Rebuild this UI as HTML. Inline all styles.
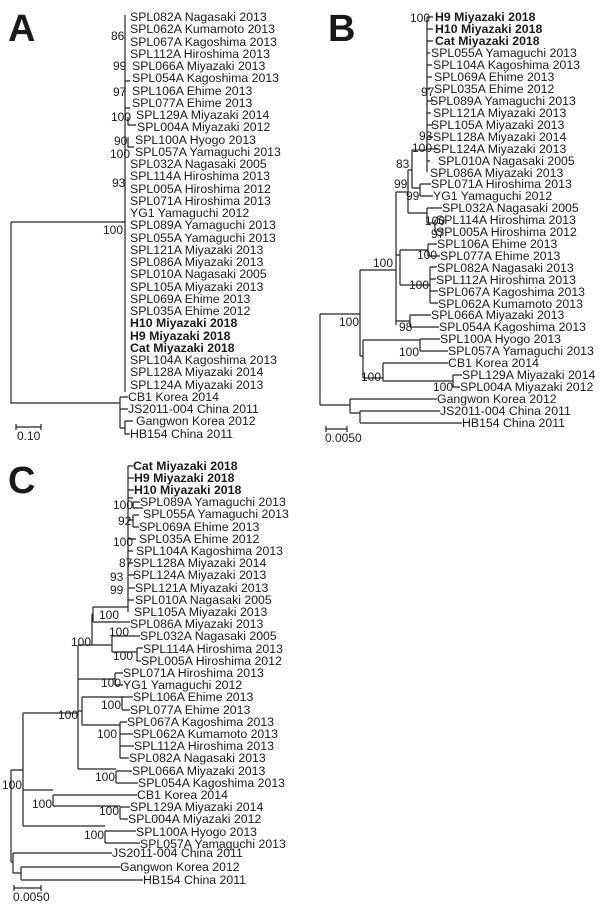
<!DOCTYPE html>
<html><head><meta charset="utf-8"><style>
html,body{margin:0;padding:0;background:#fff;width:600px;height:909px;overflow:hidden}
svg text{font-family:"Liberation Sans",Arial,sans-serif;font-size:12.3px;fill:#1a1a1a}
.b{font-weight:bold}
.n{font-size:12px}
.L{font-size:38px;font-weight:bold}
</style></head><body>
<svg width="600" height="909" viewBox="0 0 600 909" xmlns="http://www.w3.org/2000/svg">
<g stroke="#222" stroke-width="1.2" fill="none">
<!-- Panel A -->
<path d="M125 15V392 M11 222H125 M11 222V403H120 M120 397V428 M120 397H128 M120 409H128 M120 409V428 M120 428H125 M125 421V434 M125 421H133 M125 434H130"/>
<path d="M125 81H130 M125 108H130 M128 117V125H136 M128 137V147H134"/>
<!-- Panel B -->
<path d="M427 17V172 M427 17H433 M427 29H433 M427 41H433 M427 53H430 M427 65H432 M427 77H432 M427 89H430 M427 101H433 M427 113H431 M427 125H433 M427 137H433 M427 149H438 M427 161H430"/>
<path d="M412 150V188 M412 150H427 M412 188H420 M420 184V196 M420 184H431 M420 196H433"/>
<path d="M408 170V213 M408 170H412 M408 213H427 M427 208V223 M427 208H442 M427 223H435 M435 220V232 M435 220H436 M435 232H436"/>
<path d="M396 192V325 M396 192H408 M396 255H400 M400 250V285 M400 250H428 M428 244V256 M428 244H437 M428 256H440 M400 285H430 M430 267V303 M430 267H437 M430 279H436 M430 291H438 M430 303H438 M396 321H410 M410 315V327 M410 315H431 M410 327H439"/>
<path d="M360 270V356 M360 270H396 M360 356H363 M363 340V378 M363 340H420 M420 339V351 M420 339H440 M420 351H448 M363 378H383 M383 363V381 M383 363H448 M383 381H453 M453 375V387 M453 375H462 M453 387H460"/>
<path d="M320 314V405 M320 314H360 M320 405H350 M350 399V413 M350 399H437 M350 413H360 M360 411V423 M360 411H440 M360 423H462"/>
<!-- Panel C -->
<path d="M128 466V612 M128 466H133 M128 478H134 M128 490H134 M128 498H133 M133 502V508 M133 502H140 M133 508H143 M128 520H133 M133 515V527 M133 515H139 M133 527H139 M128 539H136 M128 551H133 M128 563H133 M128 575H135 M128 588H135 M128 600H134"/>
<path d="M93 607V622 M93 607H128 M93 622H130 M92 614V645 M92 614H93 M92 645H112 M112 636V652 M112 636H140 M112 652H137 M137 648V661 M137 648H143 M137 661H141"/>
<path d="M78 645V769 M78 645H92 M78 679H115 M115 673V685 M115 673H123 M115 685H123 M78 711H82 M82 697V725 M82 697H122 M122 697V710 M122 697H133 M122 710H130 M82 725H120 M120 722V758 M120 722H127 M120 734H133 M120 746H134 M120 758H129 M78 769H116 M116 771V783 M116 771H132 M116 783H138"/>
<path d="M23 713V826 M23 713H78 M23 790H53 M53 795V806 M53 795H137 M53 806H120 M120 807V819 M120 807H130 M120 819H128 M23 826H105 M105 831V843 M105 831H136 M105 843H140"/>
<path d="M11 770V862 M11 770H23 M11 862H13 M13 853V873 M13 853H112 M13 873H21 M21 867V880 M21 867H120 M21 880H143"/>
<!-- scale bars -->
<path d="M16 427H41 M16 424V430 M41 424V430 M326 429H347 M326 426V432 M347 426V432 M14 888H41 M14 885V891 M41 885V891"/>
</g>
<text x="8" y="41" class="L">A</text>
<text x="328" y="41" class="L">B</text>
<text x="8" y="493" class="L">C</text>
<g>
<text x="130" y="21">SPL082A Nagasaki 2013</text>
<text x="130" y="33">SPL062A Kumamoto 2013</text>
<text x="130" y="46">SPL067A Kagoshima 2013</text>
<text x="130" y="58">SPL112A Hiroshima 2013</text>
<text x="132" y="70">SPL066A Miyazaki 2013</text>
<text x="132" y="82">SPL054A Kagoshima 2013</text>
<text x="132" y="95">SPL106A Ehime 2013</text>
<text x="132" y="107">SPL077A Ehime 2013</text>
<text x="136" y="119">SPL129A Miyazaki 2014</text>
<text x="137" y="131">SPL004A Miyazaki 2012</text>
<text x="135" y="144">SPL100A Hyogo 2013</text>
<text x="135" y="156">SPL057A Yamaguchi 2013</text>
<text x="130" y="168">SPL032A Nagasaki 2005</text>
<text x="130" y="180">SPL114A Hiroshima 2013</text>
<text x="130" y="193">SPL005A Hiroshima 2012</text>
<text x="130" y="205">SPL071A Hiroshima 2013</text>
<text x="130" y="217">YG1 Yamaguchi 2012</text>
<text x="130" y="229">SPL089A Yamaguchi 2013</text>
<text x="130" y="242">SPL055A Yamaguchi 2013</text>
<text x="130" y="254">SPL121A Miyazaki 2013</text>
<text x="130" y="266">SPL086A Miyazaki 2013</text>
<text x="130" y="278">SPL010A Nagasaki 2005</text>
<text x="130" y="291">SPL105A Miyazaki 2013</text>
<text x="130" y="303">SPL069A Ehime 2013</text>
<text x="130" y="315">SPL035A Ehime 2012</text>
<text x="130" y="327" class="b">H10 Miyazaki 2018</text>
<text x="130" y="340" class="b">H9 Miyazaki 2018</text>
<text x="130" y="352" class="b">Cat Miyazaki 2018</text>
<text x="130" y="364">SPL104A Kagoshima 2013</text>
<text x="130" y="376">SPL128A Miyazaki 2014</text>
<text x="130" y="389">SPL124A Miyazaki 2013</text>
<text x="128" y="401">CB1 Korea 2014</text>
<text x="128" y="413">JS2011-004 China 2011</text>
<text x="136" y="425">Gangwon Korea 2012</text>
<text x="130" y="438">HB154 China 2011</text>
<text x="111" y="40" class="n">86</text>
<text x="113" y="70" class="n">99</text>
<text x="113" y="96" class="n">97</text>
<text x="111" y="121" class="n">100</text>
<text x="114" y="145" class="n">90</text>
<text x="110" y="158" class="n">100</text>
<text x="112" y="187" class="n">93</text>
<text x="103" y="234" class="n">100</text>
<text x="17" y="440" class="n">0.10</text>
</g>
<g>
<text x="435" y="21" class="b">H9 Miyazaki 2018</text>
<text x="435" y="33" class="b">H10 Miyazaki 2018</text>
<text x="435" y="45" class="b">Cat Miyazaki 2018</text>
<text x="431" y="57">SPL055A Yamaguchi 2013</text>
<text x="433" y="69">SPL104A Kagoshima 2013</text>
<text x="434" y="81">SPL069A Ehime 2013</text>
<text x="434" y="93">SPL035A Ehime 2012</text>
<text x="430" y="105">SPL089A Yamaguchi 2013</text>
<text x="433" y="117">SPL121A Miyazaki 2013</text>
<text x="431" y="129">SPL105A Miyazaki 2013</text>
<text x="433" y="141">SPL128A Miyazaki 2014</text>
<text x="433" y="153">SPL124A Miyazaki 2013</text>
<text x="438" y="165">SPL010A Nagasaki 2005</text>
<text x="430" y="177">SPL086A Miyazaki 2013</text>
<text x="431" y="188">SPL071A Hiroshima 2013</text>
<text x="433" y="200">YG1 Yamaguchi 2012</text>
<text x="442" y="212">SPL032A Nagasaki 2005</text>
<text x="436" y="224">SPL114A Hiroshima 2013</text>
<text x="436" y="236">SPL005A Hiroshima 2012</text>
<text x="437" y="248">SPL106A Ehime 2013</text>
<text x="440" y="260">SPL077A Ehime 2013</text>
<text x="437" y="272">SPL082A Nagasaki 2013</text>
<text x="436" y="284">SPL112A Hiroshima 2013</text>
<text x="438" y="296">SPL067A Kagoshima 2013</text>
<text x="438" y="308">SPL062A Kumamoto 2013</text>
<text x="431" y="319">SPL066A Miyazaki 2013</text>
<text x="439" y="331">SPL054A Kagoshima 2013</text>
<text x="440" y="343">SPL100A Hyogo 2013</text>
<text x="448" y="355">SPL057A Yamaguchi 2013</text>
<text x="448" y="367">CB1 Korea 2014</text>
<text x="462" y="379">SPL129A Miyazaki 2014</text>
<text x="460" y="391">SPL004A Miyazaki 2012</text>
<text x="437" y="403">Gangwon Korea 2012</text>
<text x="440" y="415">JS2011-004 China 2011</text>
<text x="462" y="427">HB154 China 2011</text>
<text x="410" y="22" class="n">100</text>
<text x="421" y="96" class="n">97</text>
<text x="419" y="140" class="n">93</text>
<text x="412" y="152" class="n">100</text>
<text x="396" y="168" class="n">83</text>
<text x="394" y="188" class="n">99</text>
<text x="406" y="200" class="n">99</text>
<text x="425" y="225" class="n">100</text>
<text x="431" y="238" class="n">97</text>
<text x="417" y="259" class="n">100</text>
<text x="373" y="267" class="n">100</text>
<text x="409" y="289" class="n">100</text>
<text x="339" y="326" class="n">100</text>
<text x="399" y="331" class="n">98</text>
<text x="399" y="356" class="n">100</text>
<text x="361" y="381" class="n">100</text>
<text x="433" y="391" class="n">100</text>
<text x="325" y="442" class="n">0.0050</text>
</g>
<g>
<text x="133" y="470" class="b">Cat Miyazaki 2018</text>
<text x="134" y="482" class="b">H9 Miyazaki 2018</text>
<text x="134" y="494" class="b">H10 Miyazaki 2018</text>
<text x="140" y="506">SPL089A Yamaguchi 2013</text>
<text x="143" y="518">SPL055A Yamaguchi 2013</text>
<text x="139" y="531">SPL069A Ehime 2013</text>
<text x="139" y="543">SPL035A Ehime 2012</text>
<text x="136" y="555">SPL104A Kagoshima 2013</text>
<text x="133" y="567">SPL128A Miyazaki 2014</text>
<text x="133" y="579">SPL124A Miyazaki 2013</text>
<text x="135" y="592">SPL121A Miyazaki 2013</text>
<text x="135" y="604">SPL010A Nagasaki 2005</text>
<text x="134" y="616">SPL105A Miyazaki 2013</text>
<text x="130" y="628">SPL086A Miyazaki 2013</text>
<text x="140" y="640">SPL032A Nagasaki 2005</text>
<text x="143" y="653">SPL114A Hiroshima 2013</text>
<text x="141" y="665">SPL005A Hiroshima 2012</text>
<text x="123" y="677">SPL071A Hiroshima 2013</text>
<text x="123" y="689">YG1 Yamaguchi 2012</text>
<text x="133" y="701">SPL106A Ehime 2013</text>
<text x="130" y="714">SPL077A Ehime 2013</text>
<text x="127" y="726">SPL067A Kagoshima 2013</text>
<text x="133" y="738">SPL062A Kumamoto 2013</text>
<text x="134" y="750">SPL112A Hiroshima 2013</text>
<text x="129" y="762">SPL082A Nagasaki 2013</text>
<text x="132" y="775">SPL066A Miyazaki 2013</text>
<text x="138" y="787">SPL054A Kagoshima 2013</text>
<text x="137" y="799">CB1 Korea 2014</text>
<text x="130" y="811">SPL129A Miyazaki 2014</text>
<text x="128" y="823">SPL004A Miyazaki 2012</text>
<text x="136" y="836">SPL100A Hyogo 2013</text>
<text x="140" y="848">SPL057A Yamaguchi 2013</text>
<text x="112" y="857">JS2011-004 China 2011</text>
<text x="120" y="871">Gangwon Korea 2012</text>
<text x="143" y="884">HB154 China 2011</text>
<text x="113" y="509" class="n">100</text>
<text x="118" y="525" class="n">92</text>
<text x="113" y="546" class="n">100</text>
<text x="119" y="567" class="n">87</text>
<text x="110" y="581" class="n">93</text>
<text x="110" y="594" class="n">99</text>
<text x="99" y="619" class="n">100</text>
<text x="109" y="636" class="n">100</text>
<text x="71" y="646" class="n">100</text>
<text x="113" y="660" class="n">100</text>
<text x="101" y="687" class="n">100</text>
<text x="101" y="709" class="n">100</text>
<text x="58" y="719" class="n">100</text>
<text x="97" y="738" class="n">100</text>
<text x="95" y="781" class="n">100</text>
<text x="2" y="789" class="n">100</text>
<text x="32" y="808" class="n">100</text>
<text x="99" y="815" class="n">100</text>
<text x="84" y="839" class="n">100</text>
<text x="13" y="901" class="n">0.0050</text>
</g>
</svg>
</body></html>
